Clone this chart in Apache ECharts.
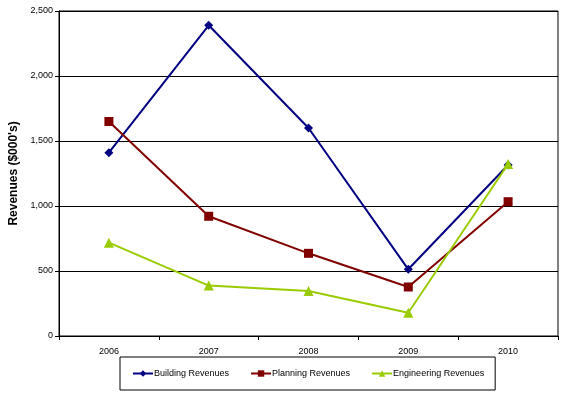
<!DOCTYPE html>
<html>
<head>
<meta charset="utf-8">
<script src="https://cdn.jsdelivr.net/npm/echarts@6/dist/echarts.min.js"></script>
<style>html,body{margin:0;padding:0;background:#fff;}#c{width:576px;height:394px;}</style>
</head>
<body>
<div id="c"></div>
<script>
var categories = ['2006', '2007', '2008', '2009', '2010'];
var buildingRevenues = [1410, 2390, 1600, 513, 1315];
var planningRevenues = [1650, 921, 636, 377, 1033];
var engineeringRevenues = [718, 388, 346, 179, 1323];
var yTicks = [0, 500, 1000, 1500, 2000, 2500];

var chart = echarts.init(document.getElementById('c'), null, {renderer: 'canvas'});
var font = 'Arial, "Liberation Sans", sans-serif';
chart.setOption({
  animation: false,
  backgroundColor: '#fff',
  grid: {left: 59, right: 18, top: 11, bottom: 58, show: true, borderColor: '#000', borderWidth: 1,
         containLabel: false, outerBoundsMode: 'none'},
  legend: {
    left: 120, top: 357,
    orient: 'horizontal',
    borderColor: '#000', borderWidth: 1,
    padding: [12, 11, 12, 12],
    itemGap: 21, itemWidth: 20, itemHeight: 8,
    textStyle: {fontFamily: font, fontSize: 9, color: '#000', padding: [0, 0, 0, -4]},
    data: ['Building Revenues', 'Planning Revenues', 'Engineering Revenues']
  },
  xAxis: {
    type: 'category', data: categories, boundaryGap: true,
    axisLine: {lineStyle: {color: '#000', width: 1}},
    axisTick: {show: true, length: 4, lineStyle: {color: '#000'}, alignWithLabel: false},
    axisLabel: {color: '#000', fontFamily: font, fontSize: 9, margin: 11},
    splitLine: {show: false}
  },
  yAxis: {
    type: 'value', min: yTicks[0], max: yTicks[yTicks.length - 1], interval: 500,
    name: "Revenues ($000's)", nameLocation: 'middle', nameGap: 36,
    nameTextStyle: {fontFamily: font, fontSize: 12, fontWeight: 'bold', color: '#000'},
    axisLine: {show: true, lineStyle: {color: '#000', width: 1}},
    axisTick: {show: true, length: 4, lineStyle: {color: '#000'}},
    axisLabel: {color: '#000', fontFamily: font, fontSize: 9, margin: 6,
      formatter: function (v) { return v.toLocaleString('en-US'); }},
    splitLine: {show: true, lineStyle: {color: '#000', width: 1}}
  },
  series: [
    {name: 'Building Revenues', type: 'line', data: buildingRevenues,
     symbol: 'diamond', symbolSize: 9, color: '#000080',
     lineStyle: {width: 2, color: '#000080'}, itemStyle: {color: '#000080'}},
    {name: 'Planning Revenues', type: 'line', data: planningRevenues,
     symbol: 'rect', symbolSize: 9, color: '#800000',
     lineStyle: {width: 2, color: '#800000'}, itemStyle: {color: '#800000'}},
    {name: 'Engineering Revenues', type: 'line', data: engineeringRevenues,
     symbol: 'triangle', symbolSize: 10, color: '#99CC00',
     lineStyle: {width: 2, color: '#99CC00'}, itemStyle: {color: '#99CC00'}}
  ]
});
</script>
</body>
</html>
